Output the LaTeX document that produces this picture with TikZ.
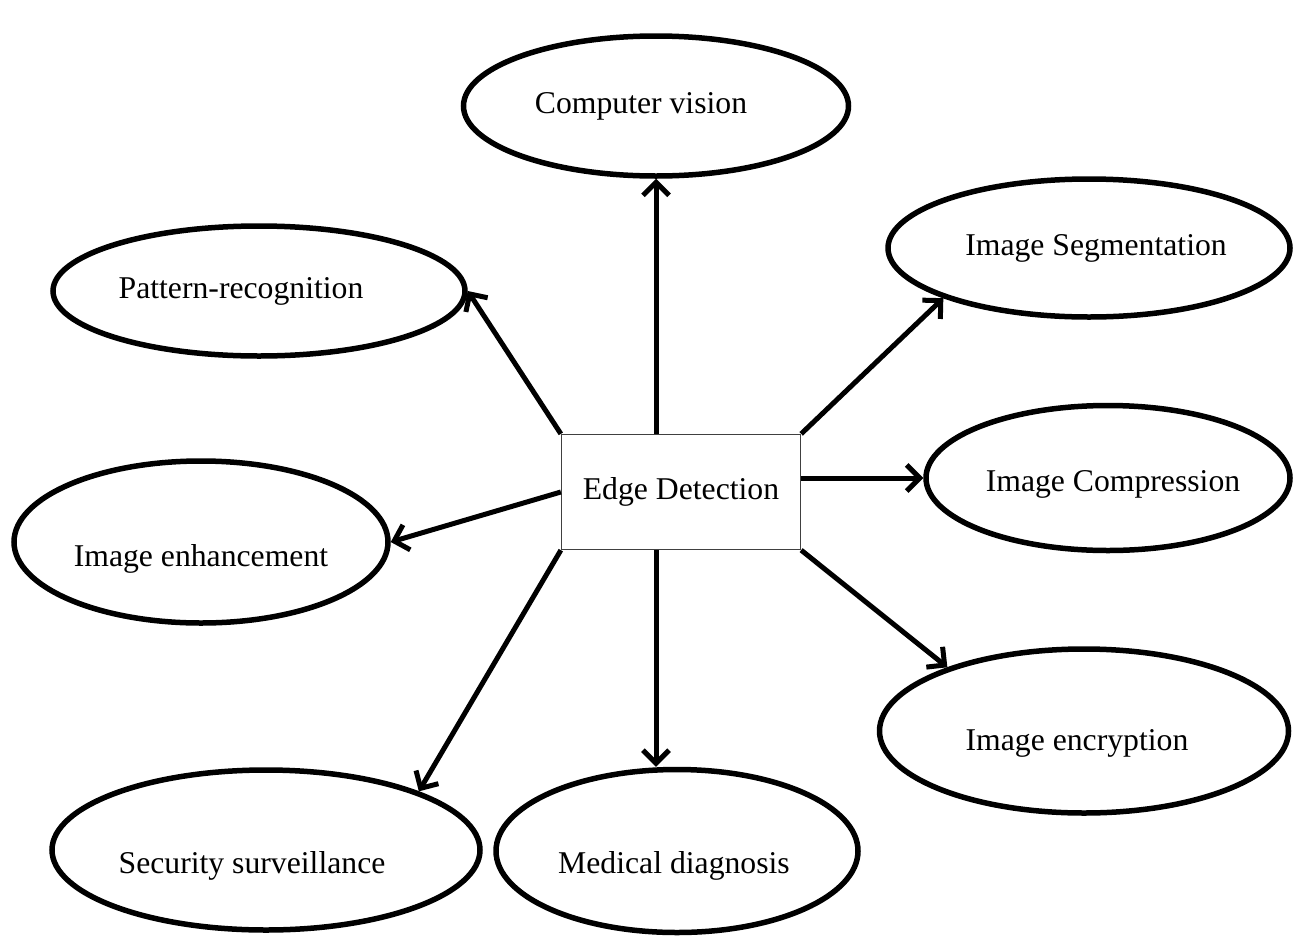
\documentclass[tikz,border=0pt]{standalone}
\usepackage{fontspec}
\setmainfont{Liberation Serif}
\usetikzlibrary{shapes.geometric,arrows.meta,positioning}

\begin{document}
\begin{tikzpicture}[x=1pt,y=-1pt,
  lbl/.style={font=\fontsize{31.7pt}{38pt}\selectfont},
  app/.style={ellipse,draw,line width=5.5pt,inner sep=0pt},
  arr/.style={line width=5pt,-{Straight Barb[length=13pt,width=26pt]}}]
\useasboundingbox (0,0) rectangle (1296,935);
% centre
\node[draw=black!75,line width=1.3pt,minimum width=239pt,minimum height=115pt,lbl](ed) at (681,492){Edge Detection};
% applications
\node[app,minimum width=385pt,minimum height=140pt,label={[lbl,xshift=-15pt]center:Computer vision}](cv) at (656,106){};
\node[app,minimum width=412pt,minimum height=130pt,label={[lbl,xshift=-18pt]center:Pattern-recognition}](pr) at (259,291){};
\node[app,minimum width=402pt,minimum height=138pt,label={[lbl,xshift=7pt]center:Image Segmentation}](seg) at (1089,248){};
\node[app,minimum width=364pt,minimum height=145pt,label={[lbl,xshift=5pt,yshift=-6pt]center:Image Compression}](comp) at (1108,478){};
\node[app,minimum width=374pt,minimum height=162pt,label={[lbl,yshift=-17pt]center:Image enhancement}](enh) at (201,542){};
\node[app,minimum width=409pt,minimum height=164pt,label={[lbl,xshift=-7pt,yshift=-12pt]center:Image encryption}](enc) at (1084,731){};
\node[app,minimum width=428pt,minimum height=160pt,label={[lbl,xshift=-14pt,yshift=-16pt]center:Security surveillance}](sec) at (266,850){};
\node[app,minimum width=362pt,minimum height=163pt,label={[lbl,xshift=-3pt,yshift=-15pt]center:Medical diagnosis}](med) at (677,851){};
% arrows
\foreach \s/\t in {ed.north west/pr.east, ed.north east/seg.199, ed.west/enh.east, ed.south east/enc.155, ed.south west/sec.21}
  \draw[arr] (\s) -- (\t);
\draw[arr] (ed.north -| cv.south) -- (cv.south);
\draw[arr] (ed.east |- comp.west) -- (comp.west);
\draw[arr] (ed.south -| cv.south) -- (cv.south |- med.north);
\end{tikzpicture}
\end{document}
